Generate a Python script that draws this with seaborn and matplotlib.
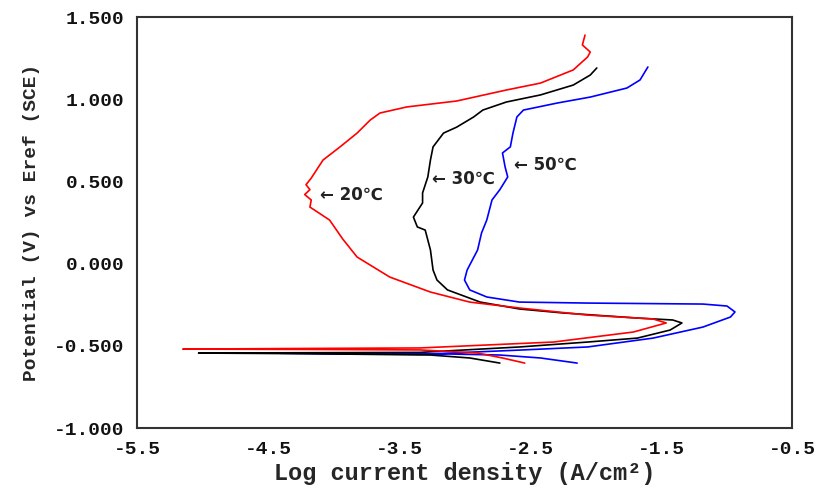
import numpy as np
import pandas as pd
import matplotlib
matplotlib.use("Agg")
import matplotlib.pyplot as plt
import seaborn as sns

# ---- data (log i in A/cm2, E in V vs SCE) ----
logi_20 = [-2.54, -2.71, -2.90, -3.34, -4.20, -5.15, -4.20, -3.34, -2.32, -1.71, -1.46, -1.56,
           -2.06, -2.58, -2.96, -3.26, -3.57, -3.82, -3.93, -4.03, -4.18, -4.17, -4.22, -4.18,
           -4.21, -4.17, -4.13, -4.08, -3.95, -3.82, -3.72, -3.645, -3.44, -3.06, -2.68, -2.42,
           -2.17, -2.06, -2.04, -2.10, -2.08]
E_20 = [-0.605, -0.574, -0.544, -0.525, -0.522, -0.520, -0.516, -0.513, -0.477, -0.416, -0.361,
        -0.337, -0.313, -0.270, -0.234, -0.173, -0.082, 0.040, 0.150, 0.265, 0.344, 0.387, 0.420,
        0.450, 0.480, 0.520, 0.569, 0.630, 0.710, 0.794, 0.873, 0.916, 0.953, 0.989, 1.056, 1.098,
        1.178, 1.257, 1.287, 1.330, 1.390]

logi_30 = [-2.73, -2.96, -3.26, -4.20, -5.03, -4.20, -3.34, -2.58, -2.06, -1.68, -1.43, -1.34,
           -1.41, -1.68, -2.25, -2.58, -2.88, -3.13, -3.21, -3.24, -3.26, -3.30, -3.36, -3.39,
           -3.32, -3.32, -3.28, -3.26, -3.24, -3.16, -3.06, -2.93, -2.86, -2.68, -2.42, -2.17,
           -2.04, -1.99]
E_30 = [-0.605, -0.574, -0.556, -0.548, -0.544, -0.542, -0.540, -0.507, -0.477, -0.453, -0.404,
        -0.361, -0.343, -0.331, -0.300, -0.276, -0.234, -0.160, -0.100, -0.039, 0.083, 0.204,
        0.223, 0.283, 0.369, 0.430, 0.527, 0.630, 0.710, 0.794, 0.830, 0.892, 0.934, 0.983,
        1.026, 1.086, 1.147, 1.190]

logi_50 = [-2.14, -2.42, -2.73, -3.11, -4.41, -4.00, -3.34, -2.58, -2.06, -1.56, -1.18, -0.97,
           -0.935, -0.996, -1.18, -2.06, -2.58, -2.83, -2.96, -3.00, -2.98, -2.90, -2.87, -2.83,
           -2.79, -2.73, -2.67, -2.69, -2.71, -2.65, -2.63, -2.60, -2.55, -2.29, -2.04, -1.76,
           -1.66, -1.60]
E_50 = [-0.605, -0.574, -0.556, -0.550, -0.545, -0.548, -0.552, -0.526, -0.507, -0.453, -0.386,
        -0.325, -0.294, -0.258, -0.246, -0.240, -0.234, -0.203, -0.160, -0.100, -0.039, 0.083,
        0.186, 0.265, 0.387, 0.450, 0.527, 0.588, 0.673, 0.710, 0.794, 0.892, 0.934, 0.977,
        1.013, 1.068, 1.117, 1.196]

temps = ["20℃", "30℃", "50℃"]
colors = ["#ff0000", "#000000", "#0000ff"]
label_pos_x = [-4.10, -3.25, -2.62]
label_pos_y = [0.417, 0.515, 0.600]

x_ticks = [-5.5, -4.5, -3.5, -2.5, -1.5, -0.5]
x_ticklabels = ["-5.5", "-4.5", "-3.5", "-2.5", "-1.5", "-0.5"]
y_ticks = [-1.0, -0.5, 0.0, 0.5, 1.0, 1.5]
y_ticklabels = ["-1.000", "-0.500", "0.000", "0.500", "1.000", "1.500"]

# ---- build long table ----
frames = []
for t, xs, ys in zip(temps, [logi_20, logi_30, logi_50], [E_20, E_30, E_50]):
    frames.append(pd.DataFrame({"logi": xs, "E": ys, "T": t, "order": np.arange(len(xs))}))
df = pd.concat(frames, ignore_index=True)

sns.set_style("white")
plt.rcParams["font.family"] = ["DejaVu Sans"]

fig = plt.figure(figsize=(8.19, 4.90), dpi=100)
ax = fig.add_axes([0.1673, 0.1265, 0.7997, 0.8388])

palette = dict(zip(temps, colors))
sns.lineplot(data=df, x="logi", y="E", hue="T", hue_order=["50℃", "30℃", "20℃"],
             palette=palette, sort=False, estimator=None, units="T",
             linewidth=1.2, legend=False, ax=ax)

ax.set_xlim(-5.5, -0.5)
ax.set_ylim(-1.0, 1.5)
ax.set_xticks(x_ticks)
ax.set_yticks(y_ticks)
mono = "Liberation Mono"
ax.set_xticklabels(x_ticklabels, fontfamily=mono, fontweight="bold", fontsize=14)
ax.set_yticklabels(y_ticklabels, fontfamily=mono, fontweight="bold", fontsize=14)
ax.tick_params(direction="in", length=4, width=1, colors="#333333", pad=9)
for lab in ax.get_xticklabels() + ax.get_yticklabels():
    lab.set_color("#111111")

ax.set_xlabel("Log current density (A/cm²)", fontfamily=mono, fontweight="bold",
              fontsize=17, labelpad=3)
ax.set_ylabel("Potential (V) vs Eref (SCE)", fontfamily=mono, fontweight="bold",
              fontsize=14, labelpad=10)

for s in ax.spines.values():
    s.set_visible(True)
    s.set_color("#333333")
    s.set_linewidth(1.5)

for t, lx, ly in zip(temps, label_pos_x, label_pos_y):
    ax.text(lx, ly, "← " + t, fontsize=12, fontweight="bold", color="#222222",
            va="center", ha="left")

fig.savefig("out.png", dpi=100, facecolor="white")
